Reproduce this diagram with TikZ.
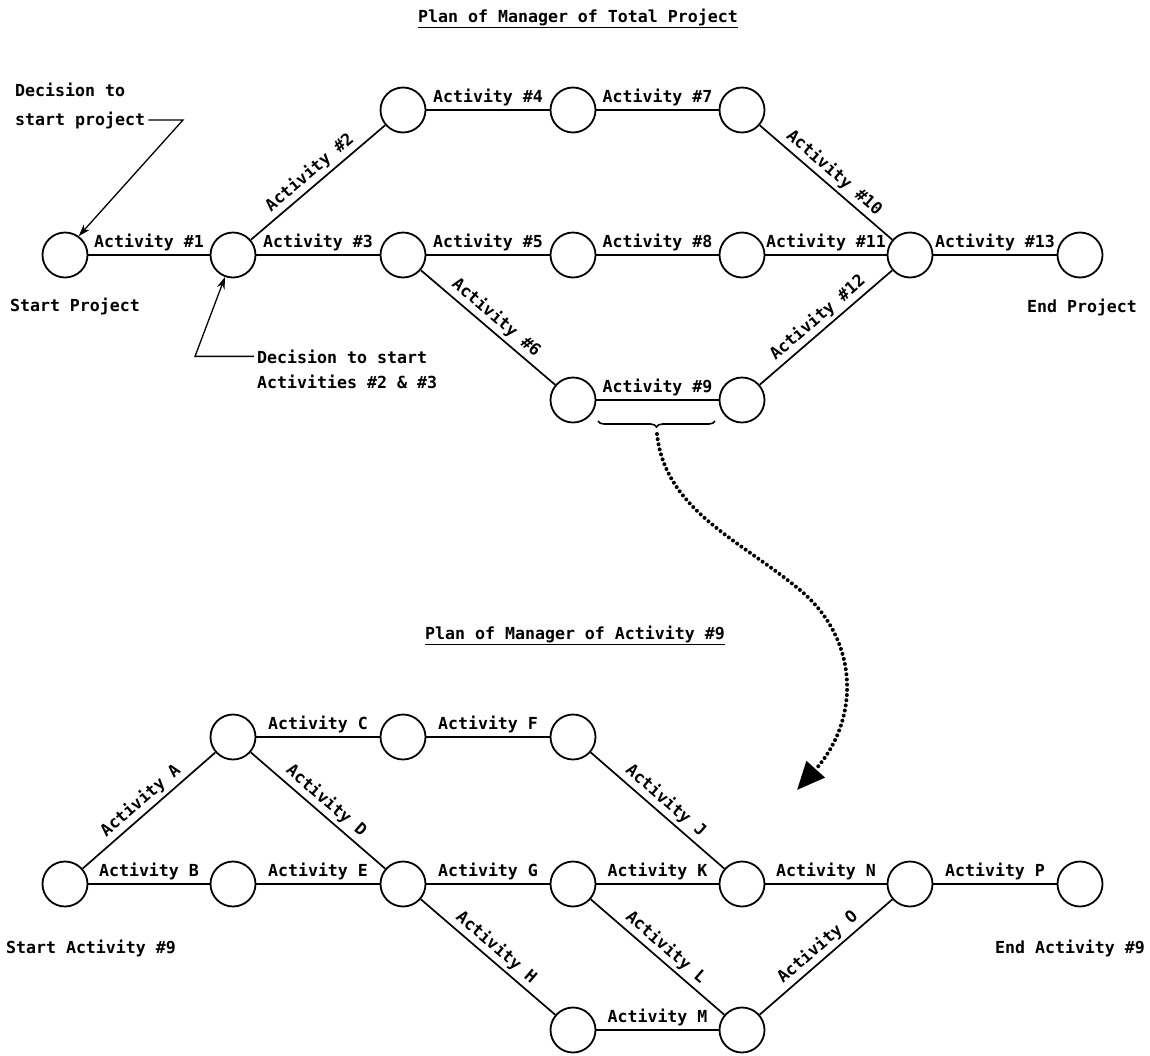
\documentclass[tikz,border=0pt]{standalone}
\usepackage{fontspec}
\newfontfamily\lgfont{DejaVu Sans Mono}
\newcommand\lgtext{\lgfont\bfseries\fontsize{16.6}{20}\selectfont}
\usetikzlibrary{arrows.meta,decorations.pathreplacing}
\begin{document}
\begin{tikzpicture}[x=1pt,y=-1pt,
  ev/.style={circle,draw,line width=1.8pt,minimum size=45pt,inner sep=0pt},
  lbl/.style={font=\lgtext,inner sep=3.5pt},
  txt/.style={font=\lgtext,inner sep=0pt},
  act/.style={line width=1.7pt},
  note/.style={line width=1.3pt,-{Stealth[length=12pt,width=8pt]}},
  zoomline/.style={line width=4pt,line cap=round,dash pattern=on 0pt off 5.2pt,
    -{Triangle[length=28pt,width=24pt]}},
]
\fill[white] (0,0) rectangle (1150,1055);
\useasboundingbox (0,0) rectangle (1150,1055);

% ---------------- top network ----------------
\node[txt,anchor=base] (t1) at (578,22) {\underline{Plan of Manager of Total Project}};

\node[ev] (s)   at (65,255)  {};
\node[ev] (a2)  at (233,255) {};
\node[ev] (a3)  at (403,110) {};
\node[ev] (a4)  at (403,255) {};
\node[ev] (a5)  at (573,110) {};
\node[ev] (a6)  at (573,255) {};
\node[ev] (a7)  at (573,400) {};
\node[ev] (a8)  at (742,110) {};
\node[ev] (a9)  at (742,255) {};
\node[ev] (a10) at (742,400) {};
\node[ev] (a11) at (910,255) {};
\node[ev] (e)   at (1080,255) {};

\draw[act] (s) -- node[lbl,above] {Activity \#1} (a2);
\draw[act] (a2) -- node[lbl,above,sloped] {Activity \#2} (a3);
\draw[act] (a2) -- node[lbl,above] {Activity \#3} (a4);
\draw[act] (a3) -- node[lbl,above] {Activity \#4} (a5);
\draw[act] (a5) -- node[lbl,above] {Activity \#7} (a8);
\draw[act] (a8) -- node[lbl,above,sloped] {Activity \#10} (a11);
\draw[act] (a4) -- node[lbl,above] {Activity \#5} (a6);
\draw[act] (a6) -- node[lbl,above] {Activity \#8} (a9);
\draw[act] (a9) -- node[lbl,above] {Activity \#11} (a11);
\draw[act] (a4) -- node[lbl,above,sloped] {Activity \#6} (a7);
\draw[act] (a7) -- node[lbl,above] {Activity \#9} (a10);
\draw[act] (a10) -- node[lbl,above,sloped] {Activity \#12} (a11);
\draw[act] (a11) -- node[lbl,above] {Activity \#13} (e);

\node[txt,anchor=base] (sp) at (75,311) {Start Project};
\node[txt,anchor=base] (ep) at (1082,312) {End Project};

% annotations
\node[txt,anchor=base west] (d1) at (15,96) {Decision to};
\node[txt,anchor=base west] (d2) at (15,125) {start project};
\coordinate (k1) at (183,0);
\draw[note] (d2.east) ++(3,0) -- (d2.east -| k1) -- (s.54);

\node[txt,anchor=base west] (f1) at (257,363) {Decision to start};
\node[txt,anchor=base west] (f2) at (257,388) {Activities \#2 \& \#3};
\coordinate (k2) at (195,0);
\draw[note] (f1.west) ++(-3,0) -- (f1.west -| k2) -- (a2.250);

% brace and zoom arrow
\coordinate (b1) at (598,421);
\coordinate (b2) at (715,421);
\coordinate (bt) at (657,434);
\coordinate (bm) at (800,590);
\coordinate (bz) at (797,790);
\draw[line width=1.6pt,decorate,decoration={brace,mirror,amplitude=6pt}] (b1) -- (b2);
\draw[zoomline] (bt) .. controls (665,510) and (740,540) .. (bm)
  .. controls (860,640) and (860,720) .. (bz);

% ---------------- bottom network ----------------
\node[txt,anchor=base] (t2) at (575,639) {\underline{Plan of Manager of Activity \#9}};

\node[ev] (bs)  at (65,884)  {};
\node[ev] (c2)  at (233,737) {};
\node[ev] (c3)  at (233,884) {};
\node[ev] (c4)  at (403,737) {};
\node[ev] (c5)  at (403,884) {};
\node[ev] (c6)  at (573,737) {};
\node[ev] (c7)  at (573,884) {};
\node[ev] (c8)  at (573,1030) {};
\node[ev] (c9)  at (742,884) {};
\node[ev] (c10) at (742,1030) {};
\node[ev] (c11) at (910,884) {};
\node[ev] (be)  at (1080,884) {};

\draw[act] (bs) -- node[lbl,above,sloped] {Activity A} (c2);
\draw[act] (bs) -- node[lbl,above] {Activity B} (c3);
\draw[act] (c2) -- node[lbl,above] {Activity C} (c4);
\draw[act] (c2) -- node[lbl,above,sloped] {Activity D} (c5);
\draw[act] (c3) -- node[lbl,above] {Activity E} (c5);
\draw[act] (c4) -- node[lbl,above] {Activity F} (c6);
\draw[act] (c6) -- node[lbl,above,sloped] {Activity J} (c9);
\draw[act] (c5) -- node[lbl,above] {Activity G} (c7);
\draw[act] (c5) -- node[lbl,above,sloped] {Activity H} (c8);
\draw[act] (c7) -- node[lbl,above] {Activity K} (c9);
\draw[act] (c7) -- node[lbl,above,sloped] {Activity L} (c10);
\draw[act] (c9) -- node[lbl,above] {Activity N} (c11);
\draw[act] (c8) -- node[lbl,above] {Activity M} (c10);
\draw[act] (c10) -- node[lbl,above,sloped] {Activity O} (c11);
\draw[act] (c11) -- node[lbl,above] {Activity P} (be);

\node[txt,anchor=base] (sa) at (91,953) {Start Activity \#9};
\node[txt,anchor=base] (ea) at (1070,953) {End Activity \#9};
\end{tikzpicture}
\end{document}
